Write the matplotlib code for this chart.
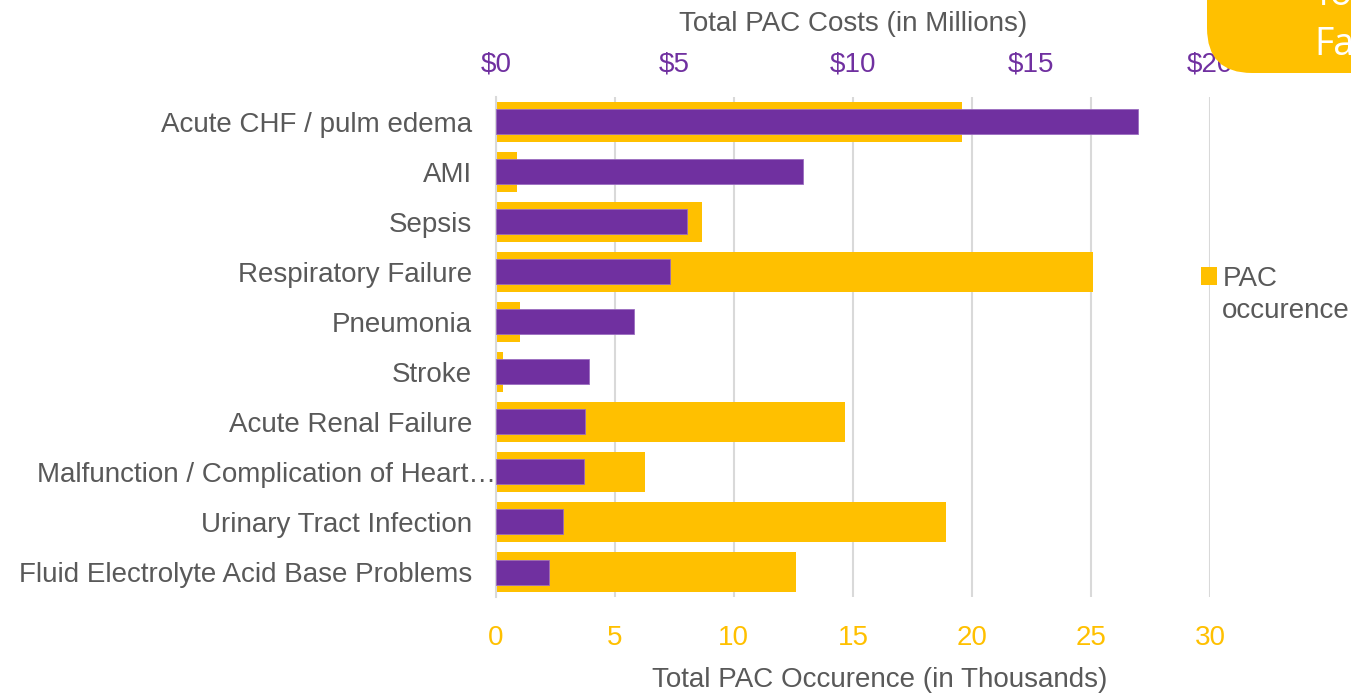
import matplotlib.pyplot as plt
from matplotlib.patches import FancyBboxPatch
from matplotlib.transforms import ScaledTranslation, IdentityTransform
import numpy as np

plt.rcParams['font.family'] = ['Liberation Sans', 'DejaVu Sans']

# PAC data by condition
conditions = ['Acute CHF / pulm edema', 'AMI', 'Sepsis', 'Respiratory Failure',
              'Pneumonia', 'Stroke', 'Acute Renal Failure',
              'Malfunction / Complication of Heart\u2026', 'Urinary Tract Infection',
              'Fluid Electrolyte Acid Base Problems']
occurence_k = [19.6, 0.9, 8.65, 25.1, 1.0, 0.3, 14.65, 6.25, 18.9, 12.6]   # thousands
costs_m = [17.98, 8.6, 5.35, 4.87, 3.88, 2.6, 2.5, 2.48, 1.88, 1.48]      # millions

occ_ticks = [0, 5, 10, 15, 20, 25, 30]
cost_ticks = [0, 5, 10, 15, 20]
cost_labels = ['$0', '$5', '$10', '$15', '$20']

yellow = '#FFC000'
purple = '#7030A0'
grey = '#595959'
gridc = '#D9D9D9'
fs = 20

fig = plt.figure(figsize=(13.51, 6.95), dpi=100)
ax = fig.add_axes([0.367, 0.141, 0.5286, 0.7195])
y = np.arange(len(conditions))

ax.barh(y, occurence_k, height=0.8, color=yellow, label='PAC', zorder=2)
ax.set_xlim(0, 30)
ax.set_ylim(len(conditions) - 0.5, -0.5)
ax.set_xticks(occ_ticks)
ax.set_yticks(y)
ax.set_yticklabels(conditions, fontsize=fs, color=grey)
ax.tick_params(axis='x', colors=yellow, labelsize=fs, length=0, pad=20)
ax.tick_params(axis='y', length=0, pad=17)
ax.xaxis.grid(True, color=gridc, linewidth=1.5, zorder=0)
ax.set_axisbelow(True)
for s in ['top', 'right', 'bottom']:
    ax.spines[s].set_visible(False)
ax.spines['left'].set_color(gridc)
ax.spines['left'].set_linewidth(1.5)

# the truncated long label runs up to the axis line
long_lbl = ax.yaxis.get_major_ticks()[7].label1
long_lbl.set_transform(long_lbl.get_transform() + ScaledTranslation(0.24, 0, fig.dpi_scale_trans))

ax2 = ax.twiny()
ax2.barh(y, costs_m, height=0.5, color=purple, edgecolor='#9B6CC0', linewidth=0.6, zorder=3)
ax2.set_xlim(0, 20)
ax2.set_xticks(cost_ticks)
ax2.set_xticklabels(cost_labels)
ax2.tick_params(axis='x', colors=purple, labelsize=fs, length=0, pad=14)
for s in ax2.spines.values():
    s.set_visible(False)

fig.text(853 / 1351, 1 - 24 / 695, 'Total PAC Costs (in Millions)', ha='center', va='center',
         fontsize=fs, color=grey)
fig.text(880 / 1351, 1 - 680 / 695, 'Total PAC Occurence (in Thousands)', ha='center',
         va='center', fontsize=fs, color=grey)

# legend: one series, name wraps onto a second line
leg = ax.legend(loc='center left', bbox_to_anchor=(0.987, 0.636), frameon=False,
                fontsize=fs, handlelength=0.6, handleheight=0.6, handletextpad=0.2,
                borderaxespad=0, borderpad=0)
for t in leg.get_texts():
    t.set_color(grey)
fig.text(1222 / 1351, 1 - 311 / 695, 'occurence', fontsize=fs, color=grey,
         ha='left', va='center')

# rounded corner box in the top right (pixel coordinates)
box = FancyBboxPatch((1207, 695 - 73), 300, 200,
                     boxstyle='round,pad=0,rounding_size=45',
                     transform=IdentityTransform(), facecolor=yellow, edgecolor='none',
                     zorder=10)
fig.patches.append(box)
fig.text(1318 / 1351, 1 - 5 / 695, 'for', fontsize=27, color='white',
         family=['Open Sans', 'DejaVu Sans'], ha='left', va='baseline', zorder=11)
fig.text(1314 / 1351, 1 - 55 / 695, 'Fa', fontsize=27, color='white',
         family=['Open Sans', 'DejaVu Sans'], ha='left', va='baseline', zorder=11)

fig.savefig('out.png', dpi=100)
